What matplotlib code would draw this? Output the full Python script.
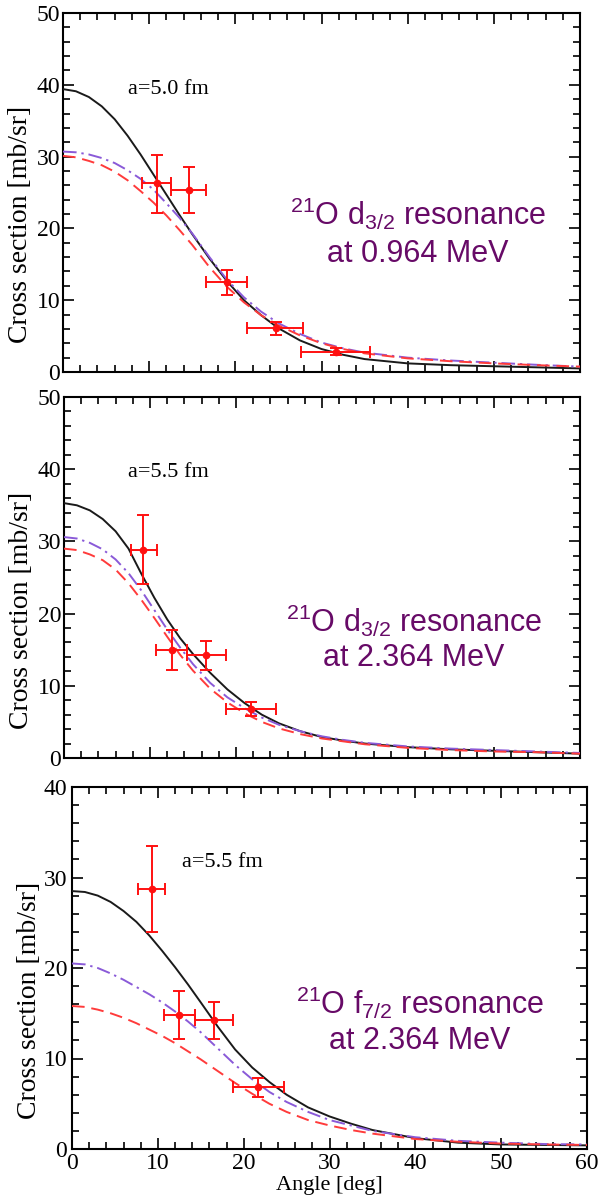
"""
plot.py
Three stacked angular distributions for 21O resonances, with curve models and data.
"""
import matplotlib
matplotlib.use("Agg")
import numpy as np
import matplotlib.pyplot as plt
from matplotlib.ticker import MultipleLocator

W, H = 599, 1197

# --- curve sample angles (deg) ---
ANG = [0, 1.5, 3, 4.5, 6, 7.5, 9, 10.5, 12, 13.5, 15, 17, 19, 21, 23, 25, 27.5, 30, 32.5, 35, 40, 45, 50, 55, 60]

# panel 1: d3/2 at 0.964 MeV, a=5.0 fm
p1_black  = [39.4, 39.1, 38.3, 37.0, 35.2, 32.9, 30.3, 27.5, 24.7, 21.9, 19.2, 15.8, 12.7, 10.0, 7.9, 6.1, 4.4, 3.2, 2.4, 1.8, 1.2, 0.95, 0.8, 0.65, 0.5]
p1_purple = [30.7, 30.6, 30.3, 29.8, 29.1, 28.1, 26.9, 25.4, 23.5, 21.5, 19.3, 16.0, 12.9, 10.4, 8.4, 6.8, 5.3, 4.1, 3.3, 2.7, 2.0, 1.6, 1.3, 1.0, 0.75]
p1_red    = [30.1, 29.9, 29.4, 28.8, 27.9, 26.7, 25.2, 23.6, 21.8, 19.8, 17.7, 14.6, 11.9, 9.7, 7.9, 6.5, 5.1, 4.0, 3.2, 2.6, 1.9, 1.5, 1.2, 0.95, 0.75]
p1_x   = [10.9, 14.6, 19.0, 24.7, 31.7]
p1_y   = [26.3, 25.4, 12.5, 6.1, 2.8]
p1_xlo = [9.2, 12.5, 16.6, 21.4, 27.6]
p1_xhi = [12.5, 16.6, 21.4, 27.8, 35.6]
p1_ylo = [22.2, 22.2, 10.7, 5.2, 2.4]
p1_yhi = [30.2, 28.5, 14.2, 7.0, 3.3]

# panel 2: d3/2 at 2.364 MeV, a=5.5 fm
p2_black  = [35.3, 35.0, 34.3, 33.1, 31.4, 29.0, 25.5, 22.2, 19.2, 16.6, 14.4, 11.8, 9.5, 7.6, 6.0, 4.8, 3.7, 2.9, 2.4, 2.0, 1.5, 1.2, 1.0, 0.8, 0.6]
p2_purple = [30.6, 30.4, 29.8, 28.9, 27.5, 25.6, 23.2, 20.5, 17.8, 15.3, 13.0, 10.4, 8.4, 6.9, 5.6, 4.6, 3.7, 3.0, 2.5, 2.1, 1.6, 1.3, 1.1, 0.9, 0.7]
p2_red    = [29.0, 28.8, 28.2, 27.4, 26.1, 24.2, 21.9, 19.4, 16.8, 14.3, 12.1, 9.6, 7.7, 6.2, 5.0, 4.1, 3.3, 2.7, 2.3, 1.9, 1.4, 1.1, 0.9, 0.8, 0.6]
p2_x   = [9.2, 12.5, 16.5, 21.7]
p2_y   = [28.8, 14.9, 14.3, 6.8]
p2_xlo = [7.8, 10.7, 14.3, 18.8]
p2_xhi = [10.8, 14.3, 18.8, 24.6]
p2_ylo = [24.1, 12.2, 12.2, 5.8]
p2_yhi = [33.6, 17.7, 16.2, 7.8]

# panel 3: f7/2 at 2.364 MeV, a=5.5 fm
p3_black  = [28.5, 28.4, 28.0, 27.3, 26.3, 25.1, 23.6, 21.9, 20.1, 18.2, 16.2, 13.5, 11.0, 9.0, 7.4, 6.0, 4.6, 3.6, 2.8, 2.1, 1.2, 0.7, 0.5, 0.45, 0.4]
p3_purple = [20.5, 20.4, 20.0, 19.4, 18.7, 17.9, 17.1, 16.2, 15.2, 14.1, 12.9, 11.1, 9.3, 7.7, 6.3, 5.2, 4.1, 3.2, 2.6, 2.0, 1.3, 0.9, 0.7, 0.55, 0.5]
p3_red    = [15.8, 15.7, 15.4, 15.0, 14.5, 13.9, 13.2, 12.5, 11.7, 10.8, 9.9, 8.6, 7.3, 6.1, 5.0, 4.1, 3.2, 2.6, 2.1, 1.7, 1.1, 0.8, 0.6, 0.5, 0.45]
p3_x   = [9.3, 12.5, 16.5, 21.7]
p3_y   = [28.7, 14.8, 14.3, 6.85]
p3_xlo = [7.7, 10.7, 14.3, 18.8]
p3_xhi = [10.8, 14.3, 18.8, 24.7]
p3_ylo = [24.0, 12.2, 12.2, 5.8]
p3_yhi = [33.5, 17.5, 16.2, 7.8]

RADII = ["a=5.0 fm", "a=5.5 fm", "a=5.5 fm"]
LABEL1 = [r"$^{21}$O d$_{3/2}$ resonance", r"$^{21}$O d$_{3/2}$ resonance", r"$^{21}$O f$_{7/2}$ resonance"]
LABEL2 = ["at 0.964 MeV", "at 2.364 MeV", "at 2.364 MeV"]
YMAX = [50, 50, 40]

plt.rcParams["font.family"] = "Liberation Serif"
plt.rcParams["mathtext.fontset"] = "custom"
plt.rcParams["mathtext.rm"] = "Liberation Sans"
plt.rcParams["mathtext.it"] = "Liberation Sans:italic"

PURPLE_TXT = "#670a67"

fig = plt.figure(figsize=(W / 100, H / 100), dpi=100)
# axes boxes in pixels: left, right, top, bottom
BOXES = [(63, 580, 13, 372), (64, 580, 397, 758), (72, 587, 787, 1149)]
TXT = [(418, 214, 254), (414, 621, 658), (420, 1003, 1041)]
ALAB = [(7.5, 39.4), (7.5, 39.5), (12.8, 31.7)]

panels = [
    (p1_black, p1_purple, p1_red, p1_x, p1_y, p1_xlo, p1_xhi, p1_ylo, p1_yhi),
    (p2_black, p2_purple, p2_red, p2_x, p2_y, p2_xlo, p2_xhi, p2_ylo, p2_yhi),
    (p3_black, p3_purple, p3_red, p3_x, p3_y, p3_xlo, p3_xhi, p3_ylo, p3_yhi),
]

for i, (blk, pur, red, ex, ey, xlo, xhi, ylo, yhi) in enumerate(panels):
    l, r, t, b = BOXES[i]
    ax = fig.add_axes([l / W, 1 - b / H, (r - l) / W, (b - t) / H])
    ax.plot(ANG, blk, color="#1a1a1a", lw=1.4, zorder=3)
    ax.plot(ANG, pur, color="#8a5ad8", lw=1.4, dashes=(7, 2.5, 1.2, 2.5), zorder=3)
    ax.plot(ANG, red, color="#ff3b3b", lw=1.4, dashes=(6.5, 3.5), zorder=3)
    ex = np.array(ex); ey = np.array(ey)
    xerr = [ex - np.array(xlo), np.array(xhi) - ex]
    yerr = [ey - np.array(ylo), np.array(yhi) - ey]
    ax.errorbar(ex, ey, xerr=xerr, yerr=yerr, fmt="o", ms=4.5, color="#ff1010",
                ecolor="#ff1010", elinewidth=1.4, capsize=4.5, capthick=1.4, zorder=4)

    ax.set_xlim(0, 60)
    ax.set_ylim(0, YMAX[i])
    ax.xaxis.set_major_locator(MultipleLocator(10))
    ax.xaxis.set_minor_locator(MultipleLocator(2))
    ax.yaxis.set_major_locator(MultipleLocator(10))
    ax.yaxis.set_minor_locator(MultipleLocator(2))
    ax.tick_params(which="both", direction="in", top=True, right=True, width=1.2)
    ax.tick_params(which="major", length=8, labelsize=17, pad=2)
    ax.tick_params(which="minor", length=5)
    for s in ax.spines.values():
        s.set_linewidth(1.5)
    ax.set_ylabel("Cross section [mb/sr]", fontsize=20)
    ax.yaxis.set_label_coords(-0.058, 0.41)
    if i < 2:
        ax.tick_params(axis="x", labelbottom=False)
    else:
        ax.tick_params(axis="y", which="major", pad=3.5)
        ax.tick_params(axis="x", which="major", pad=3)
        ax.set_xlabel("Angle [deg]", fontsize=16, labelpad=1)

    ax.text(ALAB[i][0], ALAB[i][1], RADII[i], fontsize=16, va="center", ha="left")

    cx, y1, y2 = TXT[i]
    fig.text(cx / W, 1 - y1 / H, LABEL1[i], fontsize=22, color=PURPLE_TXT,
             ha="center", va="center", family="Liberation Sans")
    fig.text(cx / W, 1 - y2 / H, LABEL2[i], fontsize=22, color=PURPLE_TXT,
             ha="center", va="center", family="Liberation Sans")

fig.savefig("out.png", dpi=100)
